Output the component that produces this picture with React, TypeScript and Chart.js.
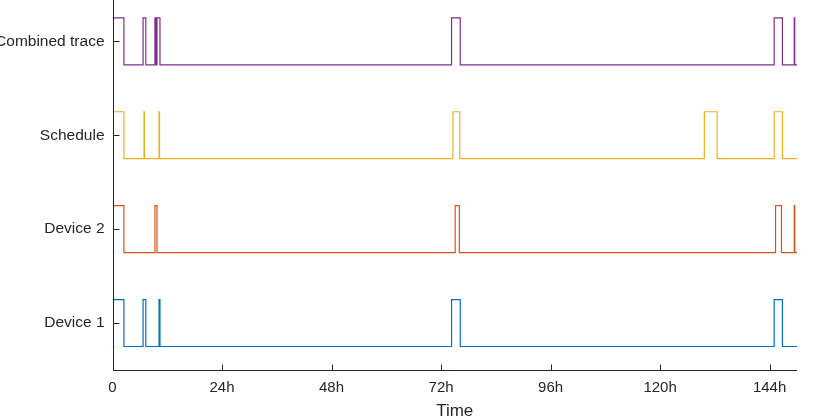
import React, { useEffect, useRef } from "react";
import { Chart, registerables } from "chart.js";

Chart.register(...registerables);

// ---- data ----
const xTickValues = [0, 24, 48, 72, 96, 120, 144];
const xMax = 150;
const yLevels = [1, 2, 3, 4];
const yLabels = ["Device 1", "Device 2", "Schedule", "Combined trace"];

// on-intervals [start h, end h]
const device1On = [[0, 2.5], [6.7, 7.3], [10.2, 10.4], [74.3, 76.2], [145.0, 146.8]];
const device2On = [[0, 2.5], [9.3, 9.75], [75.1, 76.0], [145.3, 146.6], [149.4, 149.5]];
const scheduleOn = [[0, 2.5], [6.9, 7.0], [10.2, 10.3], [74.6, 76.1], [129.7, 132.5], [145.0, 146.8]];
const combinedOn = [[0, 2.5], [6.7, 7.3], [9.3, 9.55], [9.75, 10.4], [74.3, 76.2], [145.0, 146.8], [149.4, 149.5]];

const seriesColors = ["#0072BD", "#D95319", "#EDB120", "#7E2F8E"];

function toSteps(on: number[][], level: number) {
  const hi = level + 0.25;
  const lo = level - 0.25;
  const pts: { x: number; y: number }[] = [];
  if (on.length === 0 || on[0][0] > 0) pts.push({ x: 0, y: lo });
  let last = lo;
  for (const [s, e] of on) {
    pts.push({ x: s, y: hi });
    if (e >= xMax) { last = hi; continue; }
    pts.push({ x: e, y: lo });
    last = lo;
  }
  pts.push({ x: xMax, y: last });
  return pts;
}

const AXIS_COLOR = "#262626";
const FONT = "'Liberation Sans', Arial, Helvetica, sans-serif";

const axesPlugin = {
  id: "matlabAxes",
  afterDraw(chart: any) {
    const { ctx, chartArea } = chart;
    const xs = chart.scales.x;
    const ys = chart.scales.y;
    const left = Math.round(chartArea.left) + 0.5;
    const bottom = Math.round(chartArea.bottom) + 0.5;
    ctx.save();
    ctx.strokeStyle = AXIS_COLOR;
    ctx.lineWidth = 1;
    ctx.beginPath();
    ctx.moveTo(left, 0);
    ctx.lineTo(left, bottom);
    ctx.lineTo(Math.round(chartArea.right), bottom);
    for (const v of xTickValues) {
      const px = Math.round(xs.getPixelForValue(v)) + 0.5;
      ctx.moveTo(px, bottom);
      ctx.lineTo(px, bottom - 6);
    }
    for (const v of yLevels) {
      const py = Math.round(ys.getPixelForValue(v)) + 0.5;
      ctx.moveTo(left, py);
      ctx.lineTo(left + 6, py);
    }
    ctx.stroke();
    ctx.restore();
  },
};

export default function App() {
  const ref = useRef<HTMLCanvasElement | null>(null);
  useEffect(() => {
    if (!ref.current) return;
    const series = [device1On, device2On, scheduleOn, combinedOn];
    const chart = new Chart(ref.current, {
      type: "line",
      data: {
        datasets: series.map((on, i) => ({
          label: yLabels[i],
          data: toSteps(on, yLevels[i]),
          borderColor: seriesColors[i],
          borderWidth: 1.2,
          pointRadius: 0,
          stepped: true,
          fill: false,
        })),
      },
      options: {
        animation: false,
        responsive: false,
        devicePixelRatio: 1,
        layout: { padding: { left: 0, right: 24, top: 0, bottom: 0 } },
        plugins: { legend: { display: false }, tooltip: { enabled: false } },
        scales: {
          x: {
            type: "linear",
            min: 0,
            max: xMax,
            grid: { display: false, drawTicks: false },
            border: { display: false },
            afterBuildTicks: (s: any) => {
              s.ticks = xTickValues.map((v) => ({ value: v }));
            },
            afterFit: (s: any) => {
              s.height = 50;
              s.paddingLeft = 0;
              s.paddingRight = 0;
            },
            ticks: {
              padding: 9,
              color: AXIS_COLOR,
              maxRotation: 0,
              autoSkip: false,
              font: { family: FONT, size: 15 },
              callback: (v: any) => (v === 0 ? "0" : `${v}h`),
            },
            title: {
              display: true,
              text: "Time",
              color: AXIS_COLOR,
              padding: { top: 0, bottom: 0 },
              font: { family: FONT, size: 17, lineHeight: 1.0 },
            },
          },
          y: {
            type: "linear",
            min: 0.5,
            max: 4.44,
            grid: { display: false, drawTicks: false },
            border: { display: false },
            afterBuildTicks: (s: any) => {
              s.ticks = yLevels.map((v) => ({ value: v }));
            },
            afterFit: (s: any) => {
              s.width = 112.5;
              s.paddingTop = 0;
              s.paddingBottom = 0;
            },
            ticks: {
              padding: 8,
              color: AXIS_COLOR,
              autoSkip: false,
              font: { family: FONT, size: 15.5 },
              callback: (v: any) => {
                const i = yLevels.indexOf(v);
                return i >= 0 ? yLabels[i] : "";
              },
            },
          },
        },
      },
      plugins: [axesPlugin],
    });
    return () => chart.destroy();
  }, []);
  return (
    <div style={{ position: "fixed", left: 0, top: 0, width: 821, height: 420, background: "#fff" }}>
      <canvas ref={ref} width={821} height={420} style={{ display: "block", width: 821, height: 420 }} />
    </div>
  );
}
